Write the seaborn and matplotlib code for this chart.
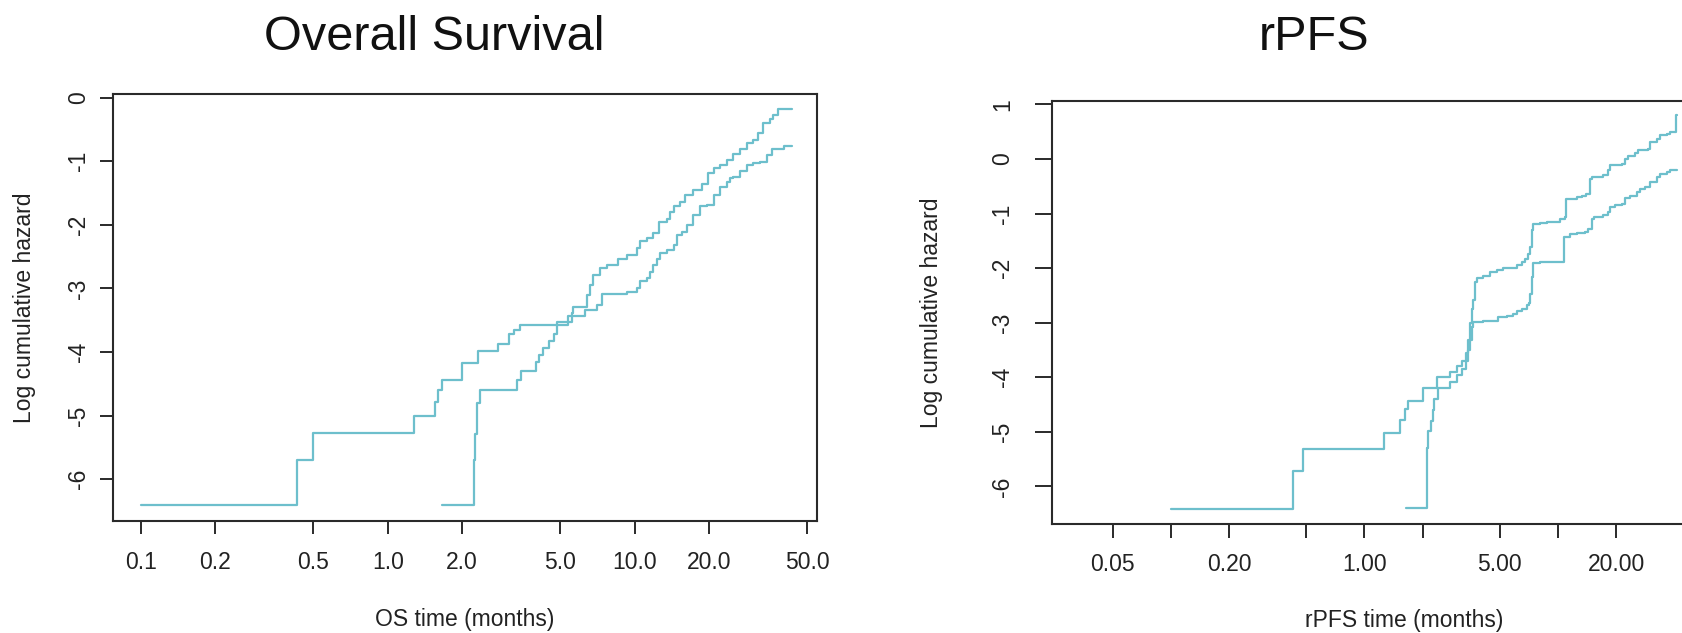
import matplotlib
matplotlib.use("Agg")
import matplotlib.pyplot as plt
import seaborn as sns
import numpy as np

# ---- Overall survival: log cumulative hazard step curves (two groups) ----
os_a_time = [0.1, 0.43, 0.497, 1.277, 1.56, 1.60, 1.66, 2.0, 2.32, 2.80, 3.09, 3.24, 3.44,
             5.39, 6.30, 7.02, 7.36, 9.29, 10.2, 10.5, 11.2, 11.5, 11.9, 12.3, 12.7, 13.5,
             14.4, 14.8, 15.5, 16.3, 17.3, 18.4, 19.6, 20.9, 22.2, 23.6, 24.4, 25.1, 26.7,
             28.4, 30.3, 32.2, 34.3, 35.9, 40.1, 43.3]
os_a_loghaz = [-6.40, -5.70, -5.28, -5.01, -4.78, -4.60, -4.44, -4.18, -3.98, -3.88, -3.72, -3.66, -3.58,
               -3.44, -3.34, -3.26, -3.08, -3.05, -3.00, -2.89, -2.84, -2.74, -2.63, -2.53, -2.45, -2.40,
               -2.32, -2.16, -2.11, -2.00, -1.85, -1.71, -1.69, -1.53, -1.40, -1.32, -1.27, -1.24, -1.16,
               -1.06, -1.03, -1.01, -0.90, -0.81, -0.755, -0.755]

os_b_time = [1.655, 2.23, 2.26, 2.29, 2.37, 3.33, 3.45, 3.97, 4.10, 4.27, 4.50, 4.72, 4.83, 5.56,
             5.65, 6.40, 6.60, 6.80, 7.24, 7.71, 8.59, 9.29, 10.2, 10.5, 11.2, 11.9, 12.5, 13.5,
             13.9, 14.4, 15.3, 16.0, 17.3, 18.7, 19.9, 20.9, 22.2, 23.6, 25.1, 26.7, 28.4, 30.3,
             31.7, 33.2, 35.4, 36.5, 38.2, 43.3]
os_b_loghaz = [-6.40, -5.69, -5.29, -4.80, -4.60, -4.44, -4.30, -4.16, -4.04, -3.94, -3.82, -3.71, -3.52, -3.39,
               -3.29, -3.10, -2.95, -2.79, -2.68, -2.63, -2.53, -2.47, -2.37, -2.26, -2.21, -2.13, -1.95, -1.90,
               -1.79, -1.71, -1.64, -1.53, -1.45, -1.35, -1.19, -1.11, -1.06, -0.98, -0.88, -0.80, -0.72, -0.67,
               -0.56, -0.40, -0.33, -0.27, -0.18, -0.18]

# ---- rPFS: log cumulative hazard step curves (two groups) ----
pfs_a_time = [0.1, 0.426, 0.484, 1.27, 1.52, 1.62, 1.69, 2.02, 2.37, 2.77, 3.0, 3.2, 3.35, 3.45, 3.52,
              3.59, 3.63, 3.73, 3.81, 4.12, 4.46, 4.83, 5.23, 6.13, 6.51, 6.77, 7.04, 7.18, 7.33, 7.47,
              8.09, 8.76, 9.48, 10.3, 10.9, 11.0, 12.5, 13.3, 14.0, 14.7, 15.0, 17.2, 18.2, 18.6, 21.4,
              22.2, 23.1, 25.1, 26.1, 29.4, 30.0, 32.4, 33.7, 36.5, 38.0, 40.8, 41.2]
pfs_a_loghaz = [-6.42, -5.71, -5.31, -5.02, -4.78, -4.59, -4.44, -4.20, -4.00, -3.90, -3.80, -3.70, -3.55, -3.32, -3.00,
                -2.75, -2.59, -2.26, -2.19, -2.15, -2.07, -2.03, -1.99, -1.95, -1.89, -1.83, -1.74, -1.61, -1.31, -1.20,
                -1.175, -1.16, -1.15, -1.095, -1.065, -0.73, -0.70, -0.67, -0.64, -0.36, -0.33, -0.30, -0.21, -0.12, -0.09,
                -0.005, 0.047, 0.10, 0.157, 0.19, 0.31, 0.37, 0.43, 0.46, 0.49, 0.80, 0.80]

pfs_b_time = [1.64, 2.10, 2.12, 2.14, 2.2, 2.27, 2.30, 2.40, 2.77, 3.0, 3.2, 3.35, 3.45, 3.52, 3.59,
              3.66, 4.12, 4.93, 5.44, 5.89, 6.13, 6.51, 6.91, 7.12, 7.18, 7.33, 7.47, 8.09, 9.11, 10.8,
              11.6, 12.5, 13.8, 14.4, 15.0, 15.3, 17.2, 18.2, 18.6, 19.8, 21.4, 22.2, 23.6, 25.6, 26.6,
              28.2, 30.0, 32.4, 33.7, 36.5, 38.0, 41.2]
pfs_b_loghaz = [-6.39, -5.71, -5.30, -4.99, -4.80, -4.60, -4.40, -4.20, -4.08, -3.95, -3.85, -3.70, -3.50, -3.32, -3.08,
                -2.99, -2.97, -2.90, -2.88, -2.84, -2.79, -2.74, -2.68, -2.64, -2.47, -2.16, -1.90, -1.89, -1.88, -1.43,
                -1.38, -1.36, -1.34, -1.28, -1.095, -1.065, -1.03, -0.97, -0.88, -0.85, -0.82, -0.71, -0.67, -0.61, -0.545,
                -0.515, -0.42, -0.33, -0.27, -0.24, -0.21, -0.21]

# ---- axis ticks ----
os_xticks = [0.1, 0.2, 0.5, 1.0, 2.0, 5.0, 10.0, 20.0, 50.0]
os_xticklabels = ["0.1", "0.2", "0.5", "1.0", "2.0", "5.0", "10.0", "20.0", "50.0"]
os_yticks = [0, -1, -2, -3, -4, -5, -6]
os_yticklabels = ["0", "-1", "-2", "-3", "-4", "-5", "-6"]

pfs_xticks = [0.05, 0.1, 0.2, 0.5, 1.0, 2.0, 5.0, 10.0, 20.0, 50.0]
pfs_xticklabels = ["0.05", "", "0.20", "", "1.00", "", "5.00", "", "20.00", ""]
pfs_yticks = [1, 0, -1, -2, -3, -4, -5, -6]
pfs_yticklabels = ["1", "0", "-1", "-2", "-3", "-4", "-5", "-6"]

LINE = "#6dbfcc"
FRAME = "#2a2a2a"

sns.set_style("ticks")
plt.rcParams["font.family"] = ["Liberation Sans", "DejaVu Sans"]

W, H = 1682, 633
fig = plt.figure(figsize=(W / 100, H / 100), dpi=100)

ax_os = fig.add_axes([113 / W, (H - 521) / H, 704 / W, 427 / H])
ax_pfs = fig.add_axes([1051.7 / W, (H - 524) / H, 704 / W, 423.3 / H])


def draw_curves(ax, curves):
    for t, h in curves:
        sns.lineplot(x=t, y=h, ax=ax, drawstyle="steps-post", color=LINE,
                     linewidth=1.6, estimator=None, sort=False, legend=False)


draw_curves(ax_os, [(os_a_time, os_a_loghaz), (os_b_time, os_b_loghaz)])
draw_curves(ax_pfs, [(pfs_a_time, pfs_a_loghaz), (pfs_b_time, pfs_b_loghaz)])


def style_axes(ax, xlim, ylim, xt, xtl, yt, ytl, xlabel, ylabel,
               xlen, ylen, xpad, ypad, xlab_y, ylab_x):
    ax.set_xscale("log")
    ax.set_xlim(*xlim)
    ax.set_ylim(*ylim)
    ax.set_xticks(xt)
    ax.set_xticklabels(xtl)
    ax.xaxis.set_minor_locator(matplotlib.ticker.NullLocator())
    ax.set_yticks(yt)
    ax.set_yticklabels(ytl, rotation=90, va="center")
    ax.tick_params(axis="x", length=xlen, width=1.4, pad=xpad, labelsize=16.5,
                   color=FRAME, labelcolor="#222222")
    ax.tick_params(axis="y", length=ylen, width=1.4, pad=ypad, labelsize=16.5,
                   color=FRAME, labelcolor="#222222")
    for s in ax.spines.values():
        s.set_visible(True)
        s.set_color(FRAME)
        s.set_linewidth(1.5)
    ax.set_xlabel(xlabel, fontsize=16.5, color="#222222")
    ax.set_ylabel(ylabel, fontsize=16.5, color="#222222")
    ax.xaxis.set_label_coords(0.5, xlab_y)
    ax.xaxis.label.set_va("center")
    ax.yaxis.set_label_coords(ylab_x, 0.5)
    ax.yaxis.label.set_va("center")
    ax.grid(False)


style_axes(ax_os, (0.0771, 54.8), (-6.657, 0.058),
           os_xticks, os_xticklabels, os_yticks, os_yticklabels,
           "OS time (months)", "Log cumulative hazard",
           xlen=9.5, ylen=9.2, xpad=12, ypad=7, xlab_y=-0.231, ylab_x=-0.126)

style_axes(ax_pfs, (0.0242, 105.4), (-6.688, 1.067),
           pfs_xticks, pfs_xticklabels, pfs_yticks, pfs_yticklabels,
           "rPFS time (months)", "Log cumulative hazard",
           xlen=9.9, ylen=12.2, xpad=11, ypad=15, xlab_y=-0.227, ylab_x=-0.171)

fig.text(434 / W, 1 - 38 / H, "Overall Survival", ha="center", va="center",
         fontsize=35, color="#111111")
fig.text(1314 / W, 1 - 38 / H, "rPFS", ha="center", va="center",
         fontsize=35, color="#111111")

fig.savefig("out.png", dpi=100, facecolor="white")
